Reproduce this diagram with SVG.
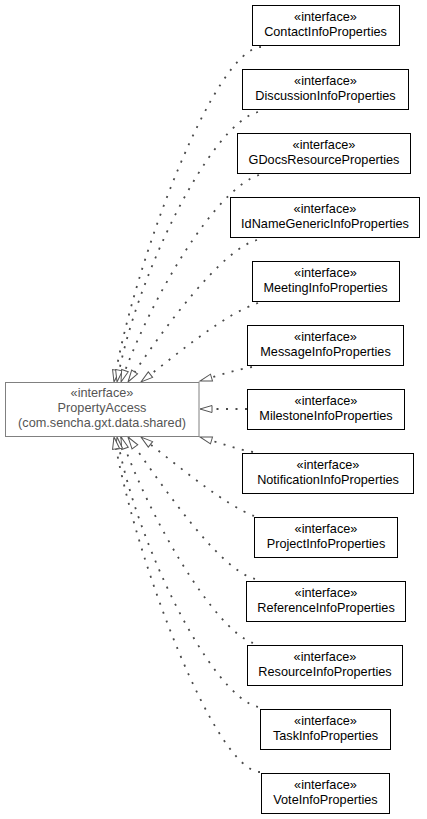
<svg xmlns="http://www.w3.org/2000/svg" width="427" height="819" viewBox="0 0 427 819">
<style>
.bg{fill:#ffffff}
.n rect{fill:#ffffff;stroke:#000000;stroke-width:1}
.n text{font-family:"Liberation Sans",Arial,sans-serif;font-size:12.7px;fill:#000000;text-anchor:middle}
.p rect{fill:#ffffff;stroke:#808080;stroke-width:1}
.p text{font-family:"Liberation Sans",Arial,sans-serif;font-size:12.7px;fill:#555555;text-anchor:middle}
.e path{fill:none;stroke:#4a4a4a;stroke-width:1.8;stroke-dasharray:2,7.5;marker-end:url(#tri)}
</style>
<defs>
<marker id="tri" markerUnits="userSpaceOnUse" viewBox="0 0 12 8" refX="12" refY="4" markerWidth="12" markerHeight="8" orient="auto" overflow="visible">
<path d="M0,0.5 L12,4 L0,7.5 Z" fill="#ffffff" stroke="#555555" stroke-width="1"/>
</marker>
</defs>
<rect class="bg" x="0" y="0" width="427" height="819"/>
<g id="edges" class="e">
<path d="M261,47 C215,49 135,259 114,382"/>
<path d="M258,112 C210,124 135,279 117,382"/>
<path d="M259,175 C215,189 150,299 121,382"/>
<path d="M257,240 C222,249 163,329 128,382"/>
<path d="M258,303 C225,314 182,350 141,382"/>
<path d="M252,367 C235,370 220,375 200,381"/>
<path d="M247,409 L200,409"/>
<path d="M253,452 C236,449 220,443 200,437"/>
<path d="M254,516 C225,505 182,469 141,437"/>
<path d="M255,579 C220,570 165,490 128,437"/>
<path d="M253,643 C215,630 150,520 121,437"/>
<path d="M258,707 C210,695 135,540 117,437"/>
<path d="M260,772 C215,770 135,560 114,437"/>
</g>
<g id="PropertyAccess" class="p">
<rect x="5.5" y="382.5" width="193.5" height="54"/>
<text x="102" y="397">«interface»</text>
<text x="102" y="412">PropertyAccess</text>
<text x="102" y="427">(com.sencha.gxt.data.shared)</text>
</g>
<g id="ContactInfoProperties" class="n">
<rect x="252.5" y="5.5" width="147" height="40"/>
<text x="325.5" y="21">«interface»</text>
<text x="325.5" y="36">ContactInfoProperties</text>
</g>
<g id="DiscussionInfoProperties" class="n">
<rect x="242.5" y="69.5" width="166" height="40"/>
<text x="325.5" y="85">«interface»</text>
<text x="325.5" y="100">DiscussionInfoProperties</text>
</g>
<g id="GDocsResourceProperties" class="n">
<rect x="237.5" y="133.5" width="173" height="40"/>
<text x="324" y="149">«interface»</text>
<text x="324" y="164">GDocsResourceProperties</text>
</g>
<g id="IdNameGenericInfoProperties" class="n">
<rect x="230.5" y="197.5" width="189" height="40"/>
<text x="325" y="213">«interface»</text>
<text x="325" y="228">IdNameGenericInfoProperties</text>
</g>
<g id="MeetingInfoProperties" class="n">
<rect x="252.5" y="261.5" width="147" height="40"/>
<text x="325.5" y="277">«interface»</text>
<text x="325.5" y="292">MeetingInfoProperties</text>
</g>
<g id="MessageInfoProperties" class="n">
<rect x="247.5" y="325.5" width="156" height="40"/>
<text x="325.5" y="341">«interface»</text>
<text x="325.5" y="356">MessageInfoProperties</text>
</g>
<g id="MilestoneInfoProperties" class="n">
<rect x="247.5" y="389.5" width="157" height="40"/>
<text x="326" y="405">«interface»</text>
<text x="326" y="420">MilestoneInfoProperties</text>
</g>
<g id="NotificationInfoProperties" class="n">
<rect x="242.5" y="453.5" width="171" height="40"/>
<text x="328" y="469">«interface»</text>
<text x="328" y="484">NotificationInfoProperties</text>
</g>
<g id="ProjectInfoProperties" class="n">
<rect x="254.5" y="517.5" width="143" height="40"/>
<text x="326" y="533">«interface»</text>
<text x="326" y="548">ProjectInfoProperties</text>
</g>
<g id="ReferenceInfoProperties" class="n">
<rect x="246.5" y="581.5" width="159" height="40"/>
<text x="326" y="597">«interface»</text>
<text x="326" y="612">ReferenceInfoProperties</text>
</g>
<g id="ResourceInfoProperties" class="n">
<rect x="247.5" y="645.5" width="155" height="40"/>
<text x="325" y="661">«interface»</text>
<text x="325" y="676">ResourceInfoProperties</text>
</g>
<g id="TaskInfoProperties" class="n">
<rect x="260.5" y="709.5" width="130" height="40"/>
<text x="325.5" y="725">«interface»</text>
<text x="325.5" y="740">TaskInfoProperties</text>
</g>
<g id="VoteInfoProperties" class="n">
<rect x="261.5" y="773.5" width="128" height="40"/>
<text x="325.5" y="789">«interface»</text>
<text x="325.5" y="804">VoteInfoProperties</text>
</g>
</svg>
